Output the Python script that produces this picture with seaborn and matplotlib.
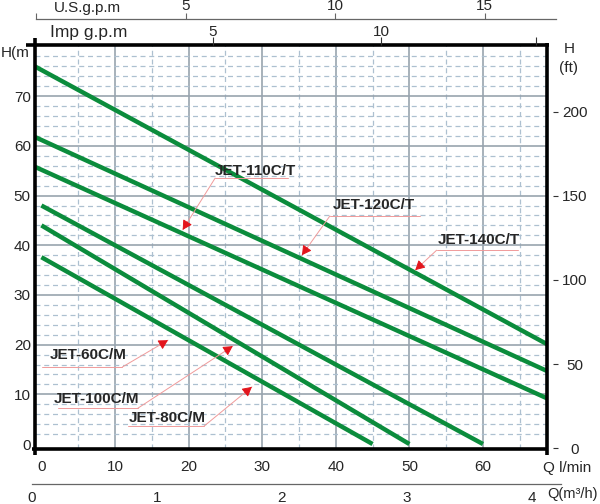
import numpy as np
import pandas as pd
import seaborn as sns
import matplotlib.pyplot as plt

# pump curves H (m) vs Q (l/min), each one a straight line read at its two ends
models = ['JET-140C/T', 'JET-120C/T', 'JET-110C/T', 'JET-100C/M', 'JET-80C/M', 'JET-60C/M']
q_start = [-0.9, -0.9, -0.9, 0, 0, 0]
h_start = [76.0, 61.8, 55.8, 48.0, 44.0, 37.6]
q_end = [68.7, 68.7, 68.7, 60, 50, 45]
h_end = [20.1, 14.7, 9.2, 0, 0, 0]

lpm_ticks = [0, 10, 20, 30, 40, 50, 60]
h_ticks = [0, 10, 20, 30, 40, 50, 60, 70]
ft_ticks = [0, 50, 100, 150, 200]
m3h_ticks = [0, 1, 2, 3, 4]
us_ticks = [0, 5, 10, 15]
us_labels = ['', '5', '10', '15']
imp_ticks = [5, 10, 14.6]
imp_labels = ['5', '10', '']

# callouts
labels = ['JET-110C/T', 'JET-120C/T', 'JET-140C/T', 'JET-60C/M', 'JET-100C/M', 'JET-80C/M']
text_q = [23.6, 39.6, 53.9, 1.2, 1.7, 11.9]
text_h = [54.9, 48.1, 41.0, 17.9, 9.0, 5.2]
line_q0 = [23.6, 39.2, 53.7, 0.1, 2.2, 11.8]
line_q1 = [33.5, 51.4, 64.7, 11.0, 13.1, 22.1]
line_h = [53.5, 45.9, 39.0, 15.5, 7.2, 3.6]
anchor_left = [True, True, True, False, False, False]
tip_q = [19.2, 35.4, 50.8, 17.2, 26.0, 28.6]
tip_h = [43.1, 38.0, 35.0, 20.9, 19.7, 11.5]

green = '#0b8c3c'
grid_c = '#98a4ae'
dash_c = '#adc0d0'
pink = '#f09a9a'
red = '#e3151c'

sns.set_style('white')
plt.rcParams['font.family'] = ['Liberation Sans', 'DejaVu Sans']
plt.rcParams['font.size'] = 11

W, HP = 600, 504
def fx(px):
    return px / W
def fy(py):
    return 1 - py / HP

fig = plt.figure(figsize=(6, 5.04), dpi=100)
ax = fig.add_axes([fx(35), fy(449), fx(547) - fx(35), fy(45) - fy(449)])

rows = []
for m, qa, ha, qb, hb in zip(models, q_start, h_start, q_end, h_end):
    rows.append((m, qa, ha))
    rows.append((m, qb, hb))
df = pd.DataFrame(rows, columns=['model', 'Q', 'H'])
sns.lineplot(data=df, x='Q', y='H', hue='model', palette={m: green for m in models},
             estimator=None, sort=False, legend=False, lw=3.2, ax=ax,
             solid_capstyle='butt', zorder=3)
ax.set_xlabel('')
ax.set_ylabel('')
ax.set_xlim(-0.87, 68.7)
ax.set_ylim(-1.0, 80.3)

# grid
for q in range(5, 66, 5):
    if q % 10:
        ax.axvline(q, color=dash_c, lw=0.9, ls=(0, (4, 3)), zorder=1)
    else:
        ax.axvline(q, color=grid_c, lw=1.2, zorder=1)
for h in range(2, 80, 2):
    if h % 10:
        ax.axhline(h, color=dash_c, lw=0.9, ls=(0, (4, 3)), zorder=1)
    else:
        ax.axhline(h, color=grid_c, lw=1.2, zorder=1)

for s in ax.spines.values():
    s.set_visible(False)
k = dict(color='black', lw=2.6, solid_capstyle='butt', transform=ax.transAxes,
         clip_on=False, zorder=6)
ax.plot([0, 0], [-0.015, 1.017], **k)
ax.plot([-0.018, 1.003], [1, 1], **k)
ax.plot([-0.006, 1], [0, 0], **k)
ax.plot([1, 1], [-0.015, 1.004], **k)

ax.set_xticks(lpm_ticks)
ax.set_yticks(h_ticks)
ax.tick_params(axis='x', length=0, pad=8, labelsize=11)
ax.tick_params(axis='y', length=0, pad=3, labelsize=11)

# right axis in ft
ax2 = ax.twinx()
ax2.set_ylim(-0.4, 239.6)
ax2.set_yticks(ft_ticks)
for s in ax2.spines.values():
    s.set_visible(False)
ax2.spines['right'].set_position(('outward', 4.3))
ax2.tick_params(axis='y', length=3.6, width=0.8, pad=12, labelsize=11, color='#333333')
for t in ax2.get_yticklabels():
    t.set_ha('center')

# Imp g.p.m along the top edge
ax_imp = fig.add_axes([fx(35), fy(45), fx(547) - fx(35), 0.0005])
ax_imp.patch.set_visible(False)
for s in ax_imp.spines.values():
    s.set_visible(False)
ax_imp.set_xlim(-0.298, 14.94)
ax_imp.set_yticks([])
ax_imp.xaxis.tick_top()
ax_imp.set_xticks(imp_ticks)
ax_imp.set_xticklabels(imp_labels)
ax_imp.tick_params(axis='x', direction='out', length=6, width=0.8, pad=-2,
                   labelsize=11, color='#333333')

# U.S. g.p.m scale
ax_us = fig.add_axes([fx(36), fy(19), fx(556) - fx(36), 0.0005])
ax_us.patch.set_visible(False)
for s in ax_us.spines.values():
    s.set_visible(False)
ax_us.spines['top'].set_visible(True)
ax_us.spines['top'].set_color('#666666')
ax_us.spines['top'].set_linewidth(0.9)
ax_us.set_xlim(-0.013, 17.38)
ax_us.set_yticks([])
ax_us.xaxis.tick_top()
ax_us.set_xticks(us_ticks)
ax_us.set_xticklabels(us_labels)
ax_us.tick_params(axis='x', direction='out', length=4, width=0.8, pad=0,
                  labelsize=11, color='#666666')

# m3/h scale
ax_m3 = fig.add_axes([fx(32), fy(484), fx(561) - fx(32), 0.0005])
ax_m3.patch.set_visible(False)
for s in ax_m3.spines.values():
    s.set_visible(False)
ax_m3.spines['bottom'].set_visible(True)
ax_m3.spines['bottom'].set_color('#666666')
ax_m3.spines['bottom'].set_linewidth(0.9)
ax_m3.set_xlim(0, 4.235)
ax_m3.set_yticks([])
ax_m3.set_xticks(m3h_ticks)
ax_m3.tick_params(axis='x', direction='out', length=4, width=0.8, pad=1,
                  labelsize=11, color='#666666')

fig.text(fx(54), fy(8), 'U.S.g.p.m', va='center', ha='left', fontsize=11)
fig.text(fx(50), fy(33), 'Imp g.p.m', va='center', ha='left', fontsize=12.5)
fig.text(fx(1), fy(53), 'H(m', va='center', ha='left', fontsize=11)
fig.text(fx(569), fy(49), 'H', va='center', ha='center', fontsize=11)
fig.text(fx(569), fy(68), '(ft)', va='center', ha='center', fontsize=11)
fig.text(fx(543), fy(468), 'Q l/min', va='center', ha='left', fontsize=11)
fig.text(fx(598), fy(494), 'Q(m³/h)', va='center', ha='right', fontsize=10.5)

# callouts
for i in range(len(labels)):
    ax.text(text_q[i], text_h[i], labels[i], fontsize=11, fontweight='bold',
            va='center', ha='left', zorder=5)
    ax.plot([line_q0[i], line_q1[i]], [line_h[i], line_h[i]], color=pink, lw=0.7, zorder=4)
    aq = line_q0[i] if anchor_left[i] else line_q1[i]
    ax.plot([aq, tip_q[i]], [line_h[i], tip_h[i]], color=pink, lw=0.7, zorder=4)
    p0 = ax.transData.transform((aq, line_h[i]))
    p1 = ax.transData.transform((tip_q[i], tip_h[i]))
    d = (p1 - p0) / np.hypot(*(p1 - p0))
    back = ax.transData.inverted().transform(p1 - d * 9)
    ax.annotate('', xy=(tip_q[i], tip_h[i]), xytext=back,
                arrowprops=dict(arrowstyle='-|>,head_length=0.4,head_width=0.22',
                                color=red, lw=0.7, shrinkA=0, shrinkB=0,
                                mutation_scale=14), zorder=5)

fig.savefig('out.png', dpi=100)
